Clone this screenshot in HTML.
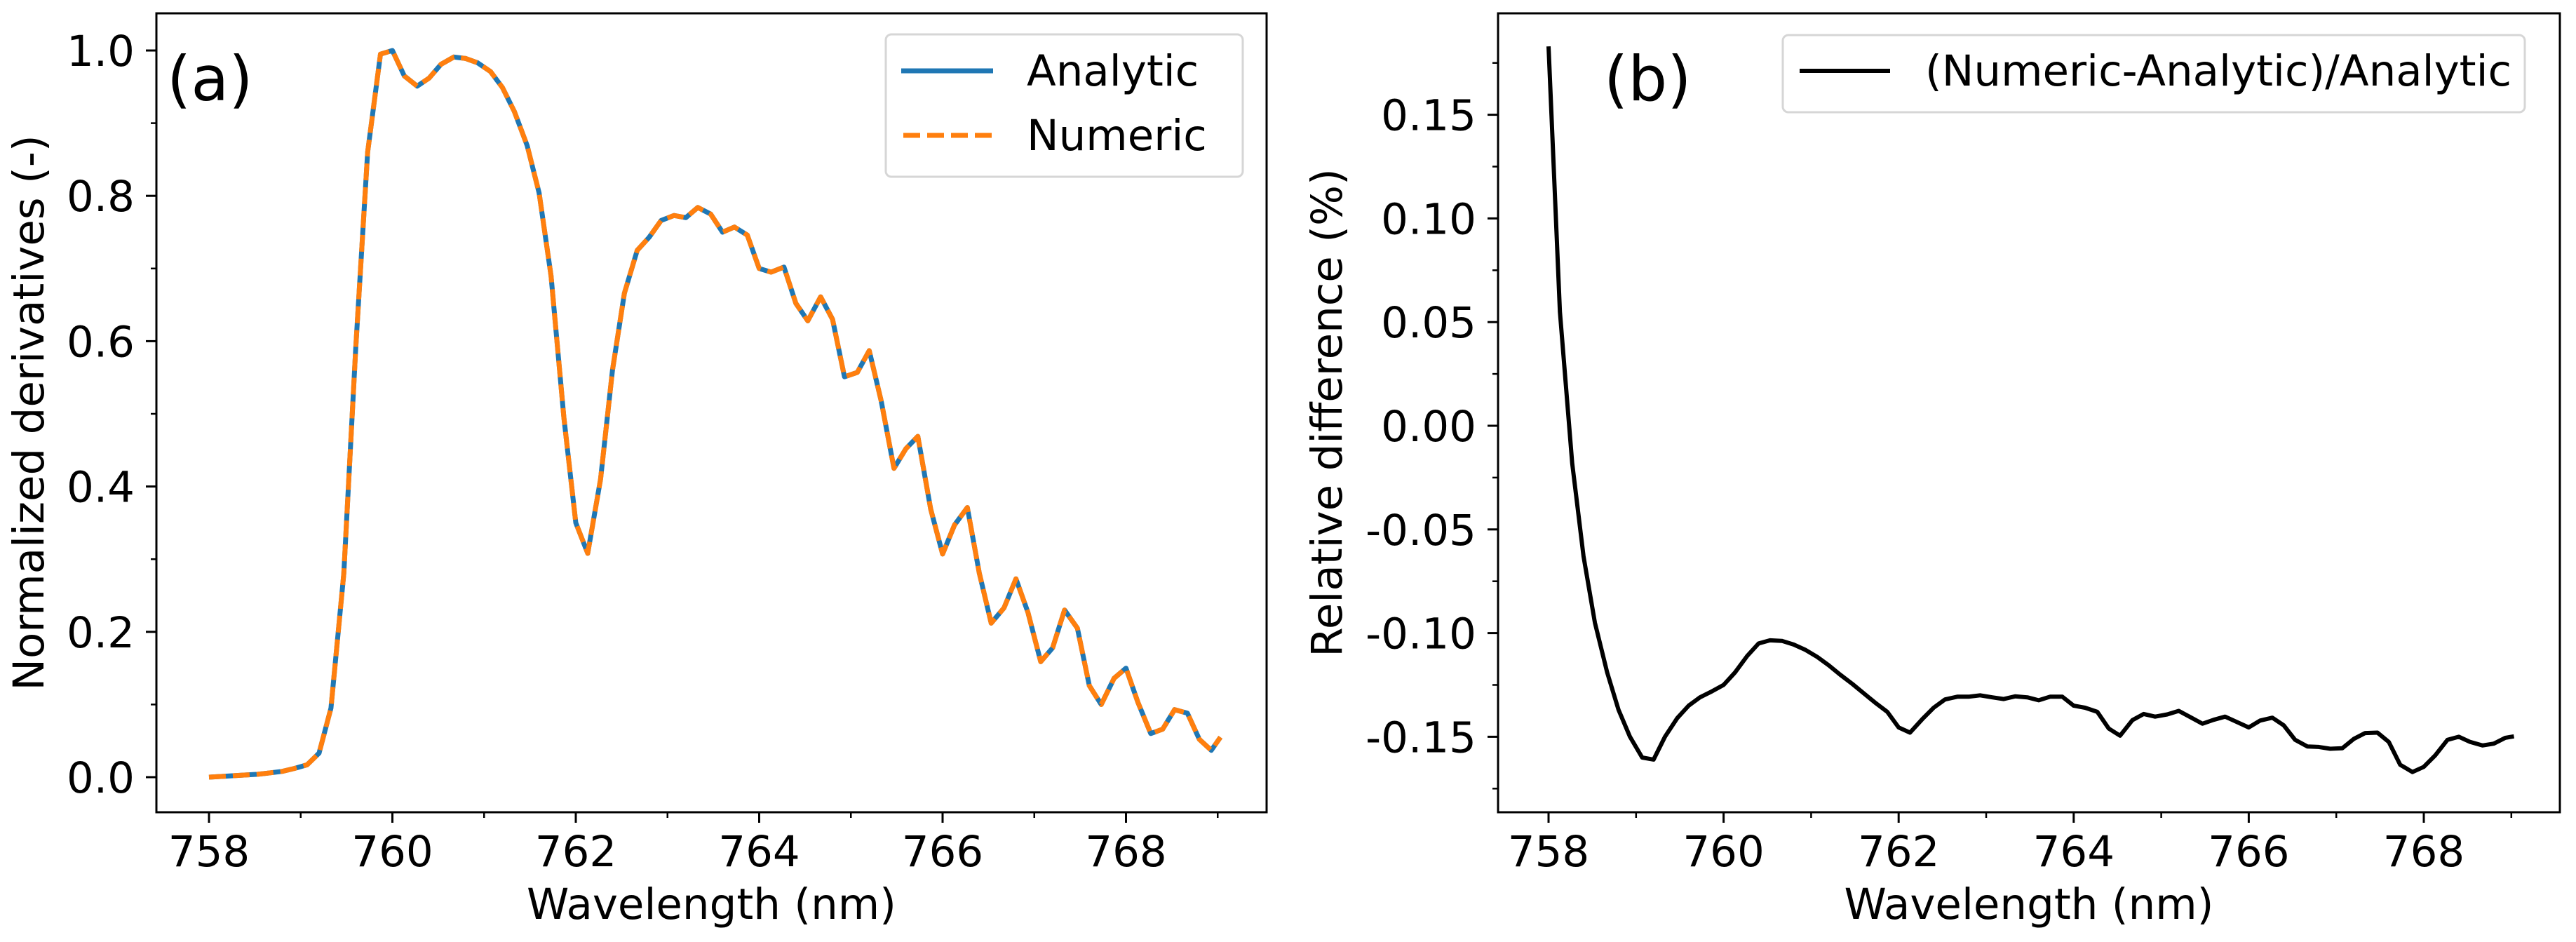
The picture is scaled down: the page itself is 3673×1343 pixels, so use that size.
<!DOCTYPE html>
<html><head><meta charset="utf-8"><style>
html,body{margin:0;padding:0;background:#fff;}
svg{display:block;font-family:"DejaVu Sans","Liberation Sans",sans-serif;}
</style></head><body>
<svg id="fig" width="3673" height="1343" viewBox="0 0 3673 1343" xmlns="http://www.w3.org/2000/svg">
<rect x="0" y="0" width="3673" height="1343" fill="#fff"/>
<g id="panelA"></g>
<g id="panelB"></g>
</svg>
<script>
const wavelengthA = [758.00,758.13,758.27,758.40,758.53,758.67,758.80,758.93,759.07,759.20,759.33,759.47,759.60,759.73,759.87,760.00,760.13,760.27,760.40,760.53,760.67,760.80,760.93,761.07,761.20,761.33,761.47,761.60,761.73,761.87,762.00,762.13,762.27,762.40,762.53,762.67,762.80,762.93,763.07,763.20,763.33,763.47,763.60,763.73,763.87,764.00,764.13,764.27,764.40,764.53,764.67,764.80,764.93,765.07,765.20,765.33,765.47,765.60,765.73,765.87,766.00,766.13,766.27,766.40,766.53,766.67,766.80,766.93,767.07,767.20,767.33,767.47,767.60,767.73,767.87,768.00,768.13,768.27,768.40,768.53,768.67,768.80,768.93,769.03];
const analytic = [0.000,0.001,0.002,0.003,0.004,0.006,0.008,0.012,0.017,0.033,0.095,0.280,0.590,0.860,0.995,1.000,0.965,0.951,0.962,0.981,0.991,0.989,0.983,0.971,0.949,0.916,0.869,0.804,0.690,0.495,0.350,0.308,0.410,0.560,0.666,0.725,0.743,0.766,0.773,0.770,0.784,0.775,0.750,0.757,0.746,0.700,0.695,0.702,0.652,0.628,0.661,0.630,0.551,0.557,0.587,0.518,0.425,0.452,0.469,0.369,0.307,0.347,0.371,0.281,0.212,0.233,0.273,0.227,0.159,0.178,0.230,0.205,0.126,0.100,0.136,0.150,0.103,0.060,0.066,0.093,0.088,0.052,0.037,0.055];
const numeric = [0.000,0.001,0.002,0.003,0.004,0.006,0.008,0.012,0.017,0.033,0.095,0.280,0.590,0.860,0.995,1.000,0.965,0.951,0.962,0.981,0.991,0.989,0.983,0.971,0.949,0.916,0.869,0.804,0.690,0.495,0.350,0.308,0.410,0.560,0.666,0.725,0.743,0.766,0.773,0.770,0.784,0.775,0.750,0.757,0.746,0.700,0.695,0.702,0.652,0.628,0.661,0.630,0.551,0.557,0.587,0.518,0.425,0.452,0.469,0.369,0.307,0.347,0.371,0.281,0.212,0.233,0.273,0.227,0.159,0.178,0.230,0.205,0.126,0.100,0.136,0.150,0.103,0.060,0.066,0.093,0.088,0.052,0.037,0.055];
const wavelengthB = [758.00,758.13,758.27,758.40,758.53,758.67,758.80,758.93,759.07,759.20,759.33,759.47,759.60,759.73,759.87,760.00,760.13,760.27,760.40,760.53,760.67,760.80,760.93,761.07,761.20,761.33,761.47,761.60,761.73,761.87,762.00,762.13,762.27,762.40,762.53,762.67,762.80,762.93,763.07,763.20,763.33,763.47,763.60,763.73,763.87,764.00,764.13,764.27,764.40,764.53,764.67,764.80,764.93,765.07,765.20,765.33,765.47,765.60,765.73,765.87,766.00,766.13,766.27,766.40,766.53,766.67,766.80,766.93,767.07,767.20,767.33,767.47,767.60,767.73,767.87,768.00,768.13,768.27,768.40,768.53,768.67,768.80,768.93,769.03];
const relDiff = [0.183,0.055,-0.018,-0.063,-0.095,-0.119,-0.137,-0.150,-0.160,-0.161,-0.150,-0.141,-0.135,-0.131,-0.128,-0.125,-0.119,-0.111,-0.105,-0.1035,-0.1038,-0.1055,-0.108,-0.1115,-0.1155,-0.120,-0.1245,-0.129,-0.1335,-0.138,-0.1455,-0.148,-0.1415,-0.136,-0.132,-0.1307,-0.1307,-0.130,-0.131,-0.1318,-0.1305,-0.131,-0.1324,-0.1307,-0.1307,-0.135,-0.136,-0.138,-0.146,-0.1495,-0.142,-0.139,-0.1403,-0.1392,-0.1375,-0.1405,-0.1437,-0.1418,-0.1403,-0.143,-0.1455,-0.1422,-0.1408,-0.1445,-0.1515,-0.1547,-0.1549,-0.1558,-0.1555,-0.151,-0.1482,-0.148,-0.1525,-0.1635,-0.167,-0.1645,-0.159,-0.1515,-0.150,-0.1525,-0.1542,-0.1533,-0.1505,-0.1498];
const xTicks = [758,760,762,764,766,768];
const xMinor = [759,761,763,765,767,769];
const yTicksA = [0.0,0.2,0.4,0.6,0.8,1.0];
const yTickLabelsA = ["0.0","0.2","0.4","0.6","0.8","1.0"];
const yMinorA = [0.1,0.3,0.5,0.7,0.9];
const yTicksB = [-0.15,-0.10,-0.05,0.00,0.05,0.10,0.15];
const yTickLabelsB = ["-0.15","-0.10","-0.05","0.00","0.05","0.10","0.15"];
const yMinorB = [-0.175,-0.125,-0.075,-0.025,0.025,0.075,0.125,0.175];

const NS = "http://www.w3.org/2000/svg";
function mk(parent, tag, attrs, text){
  const e = document.createElementNS(NS, tag);
  for (const k in attrs) e.setAttribute(k, attrs[k]);
  if (text !== undefined) e.textContent = text;
  parent.appendChild(e);
  return e;
}
const FS = 61;

function drawPanel(g, o){
  const xs = v => o.x758 + (v - 758) * o.pxPerNm;
  const ys = v => o.y0 - v * o.pxPerUnit;
  xTicks.forEach(t => {
    const l = mk(g,"line",{x1:xs(t),x2:xs(t),y1:o.bottom,y2:o.bottom+15,stroke:"#000","stroke-width":3});
    
    
    const tx = mk(g,"text",{x:xs(t),y:1235,"font-size":FS,"text-anchor":"middle",fill:"#000"},String(t));
    
    
  });
  xMinor.forEach(t => {
    const l = mk(g,"line",{x1:xs(t),x2:xs(t),y1:o.bottom,y2:o.bottom+8,stroke:"#000","stroke-width":2.5});
    
    
  });
  o.yTicks.forEach((t,i) => {
    const y = ys(t);
    const l = mk(g,"line",{x1:o.left-15,x2:o.left,y1:y,y2:y,stroke:"#000","stroke-width":3});
    
    
    const tx = mk(g,"text",{x:o.left-31,y:y+22,"font-size":FS,"text-anchor":"end",fill:"#000"},o.yLabels[i]);
    
    
  });
  o.yMinor.forEach(t => {
    const y = ys(t);
    if (y < o.top || y > o.bottom) return;
    const l = mk(g,"line",{x1:o.left-8,x2:o.left,y1:y,y2:y,stroke:"#000","stroke-width":2.5});
    
    
  });
  o.series.forEach(s => {
    const d = s.x.map((v,i)=>(i?"L":"M")+xs(v).toFixed(1)+","+ys(s.y[i]).toFixed(1)).join(" ");
    const p = mk(g,"path",{d:d,fill:"none",stroke:s.color,"stroke-width":s.w,"stroke-linejoin":"round","stroke-dasharray":s.dash||"none"});
    
    
  });
  const fr = mk(g,"rect",{x:o.left,y:o.top,width:o.right-o.left,height:o.bottom-o.top,fill:"none",stroke:"#000","stroke-width":3});
  
  
  const xl = mk(g,"text",{x:(o.left+o.right)/2,y:1310,"font-size":FS,"text-anchor":"middle",fill:"#000"},"Wavelength (nm)");
  
  
  const cy = (o.top+o.bottom)/2;
  const yl = mk(g,"text",{x:o.ylabX,y:cy,"font-size":FS,"text-anchor":"middle",fill:"#000",transform:"rotate(-90 "+o.ylabX+" "+cy+")"},o.ylabel);
  
  
  const pl = mk(g,"text",{x:o.tagX,y:143,"font-size":88,fill:"#000"},o.tag);
  
  
  const lg = mk(g,"g",{});
  
  
  const lb = mk(lg,"rect",{x:o.leg.x,y:o.leg.y,width:o.leg.w,height:o.leg.h,rx:8,fill:"#fff","fill-opacity":0.8,stroke:"#d6d6d6","stroke-width":3});
  
  
  o.leg.entries.forEach(en => {
    const ln = mk(lg,"line",{x1:en.x1,x2:en.x2,y1:en.y,y2:en.y,stroke:en.color,"stroke-width":en.w,"stroke-dasharray":en.dash||"none"});
    
    
    const t = mk(lg,"text",{x:en.tx,y:en.y+21,"font-size":FS,fill:"#000"},en.label);
    
    
  });
}

drawPanel(document.getElementById('panelA'), {
  left:223, right:1806, top:19, bottom:1158,
  x758:298, pxPerNm:130.75, y0:1108, pxPerUnit:1036,
  yTicks:yTicksA, yLabels:yTickLabelsA, yMinor:yMinorA,
  ylabel:"Normalized derivatives (-)", ylabX:62, tag:"(a)", tagX:238,
  series:[
    {name:'analytic-line', x:wavelengthA, y:analytic, color:'#1f77b4', w:7},
    {name:'numeric-line', x:wavelengthA, y:numeric, color:'#ff7f0e', w:7, dash:'24 10'}
  ],
  leg:{x:1263,y:49,w:509,h:203,entries:[
    {x1:1285,x2:1416,y:101,color:'#1f77b4',w:7,tx:1464,label:'Analytic'},
    {x1:1288,x2:1414,y:193,color:'#ff7f0e',w:7,dash:'24 10',tx:1464,label:'Numeric'}
  ]}
});
drawPanel(document.getElementById('panelB'), {
  left:2136, right:3650, top:19, bottom:1158,
  x758:2208, pxPerNm:124.8, y0:607, pxPerUnit:2956,
  yTicks:yTicksB, yLabels:yTickLabelsB, yMinor:yMinorB,
  ylabel:"Relative difference (%)", ylabX:1913, tag:"(b)", tagX:2287,
  series:[
    {name:'relative-difference-line', x:wavelengthB, y:relDiff, color:'#000', w:6}
  ],
  leg:{x:2542,y:50,w:1058,h:110,entries:[
    {x1:2566,x2:2695,y:101,color:'#000',w:6,tx:2745,label:'(Numeric-Analytic)/Analytic'}
  ]}
});
</script>
</body></html>
